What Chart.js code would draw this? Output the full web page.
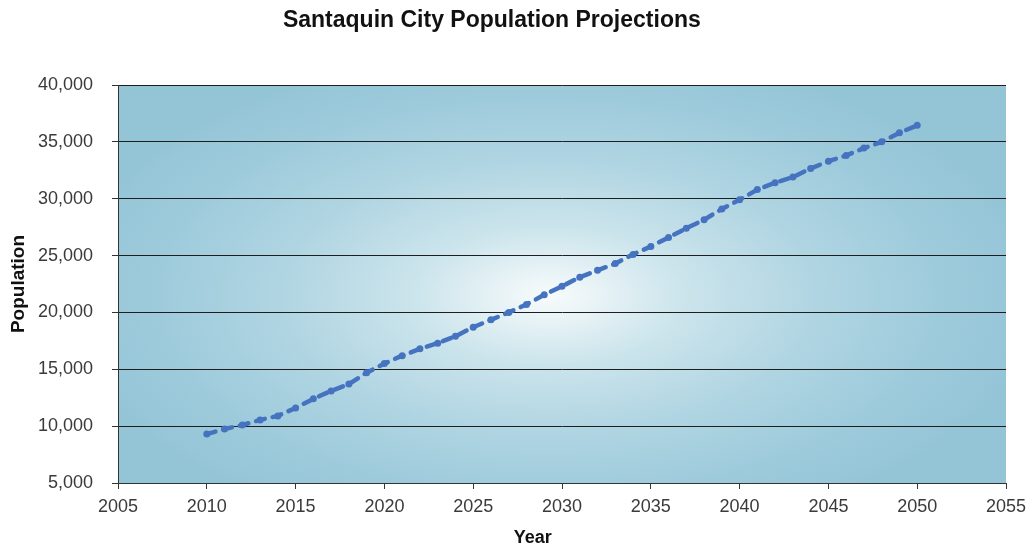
<!DOCTYPE html>
<html>
<head>
<meta charset="utf-8">
<title>Santaquin City Population Projections</title>
<script src="https://cdn.jsdelivr.net/npm/chart.js@4/dist/chart.umd.min.js"></script>
<style>
  html, body { margin: 0; padding: 0; background: #ffffff; }
  #wrap { width: 1034px; height: 551px; position: relative; }
</style>
</head>
<body>
<div id="wrap"><canvas id="chart" width="1034" height="551"></canvas></div>
<script>
// Projected population by year
const years = [2010, 2011, 2012, 2013, 2014, 2015, 2016, 2017, 2018, 2019,
               2020, 2021, 2022, 2023, 2024, 2025, 2026, 2027, 2028, 2029,
               2030, 2031, 2032, 2033, 2034, 2035, 2036, 2037, 2038, 2039,
               2040, 2041, 2042, 2043, 2044, 2045, 2046, 2047, 2048, 2049, 2050];
const population = [9300, 9750, 10100, 10550, 10900, 11600, 12400, 13100, 13700, 14700,
                    15500, 16200, 16800, 17300, 17900, 18700, 19350, 20000, 20700, 21550,
                    22300, 23100, 23700, 24300, 25100, 25800, 26600, 27400, 28150, 29100,
                    29900, 30800, 31400, 31900, 32650, 33300, 33800, 34450, 35000, 35800, 36450];

// Axis ticks
const xTickValues = [2005, 2010, 2015, 2020, 2025, 2030, 2035, 2040, 2045, 2050, 2055];
const yTickValues = [5000, 10000, 15000, 20000, 25000, 30000, 35000, 40000];

const chartTitle = 'Santaquin City Population Projections';
const xAxisTitle = 'Year';
const yAxisTitle = 'Population';

// Soft elliptical glow behind the plot area
const plotBackground = {
  id: 'plotBackground',
  beforeDraw(chart) {
    const { ctx, chartArea: a } = chart;
    const cx = a.left + a.width * 0.485;
    const cy = a.top + a.height * 0.53;
    const rx = a.width * 0.55;
    const ry = a.height * 0.62;
    ctx.save();
    ctx.beginPath();
    ctx.rect(a.left, a.top, a.width, a.height);
    ctx.clip();
    ctx.translate(cx, cy);
    ctx.scale(rx, ry);
    const g = ctx.createRadialGradient(0, 0, 0, 0, 0, 1);
    g.addColorStop(0.0, '#f7fbfc');
    g.addColorStop(0.1, '#e8f3f6');
    g.addColorStop(0.28, '#cbe4ec');
    g.addColorStop(0.55, '#b0d5e2');
    g.addColorStop(0.8, '#9ecbdc');
    g.addColorStop(1.0, '#94c5d7');
    ctx.fillStyle = g;
    ctx.fillRect(-3, -3, 6, 6);
    ctx.restore();
  }
};

// Chart title and horizontal axis title
const titles = {
  id: 'titles',
  afterDraw(chart) {
    const { ctx, chartArea: a } = chart;
    ctx.save();
    ctx.fillStyle = '#111111';
    ctx.textAlign = 'center';
    ctx.textBaseline = 'middle';
    ctx.font = 'bold 23px "Liberation Sans", Arial, sans-serif';
    ctx.fillText(chartTitle, a.left + a.width * 0.421, 21);
    ctx.font = 'bold 18px "Liberation Sans", Arial, sans-serif';
    ctx.fillText(xAxisTitle, a.left + a.width * 0.467, chart.height - 13);
    ctx.restore();
  }
};

new Chart(document.getElementById('chart'), {
  type: 'line',
  data: {
    datasets: [{
      data: years.map((y, i) => ({ x: y, y: population[i] })),
      borderColor: '#4673c0',
      backgroundColor: '#4673c0',
      borderWidth: 4.5,
      borderDash: [9, 8],
      borderCapStyle: 'round',
      pointRadius: 3.5,
      pointBorderWidth: 0,
      pointHoverRadius: 3.5,
      tension: 0,
      fill: false
    }]
  },
  options: {
    responsive: false,
    animation: false,
    events: [],
    layout: { padding: { top: 85, right: 28, bottom: 0, left: 0 } },
    plugins: {
      legend: { display: false },
      title: { display: false },
      tooltip: { enabled: false }
    },
    scales: {
      x: {
        type: 'linear',
        min: 2005,
        max: 2055,
        afterBuildTicks: s => { s.ticks = xTickValues.map(v => ({ value: v })); },
        afterFit: s => { s.height = 68; },
        ticks: {
          callback: v => String(v),
          color: '#3a3a3a',
          font: { family: '"Liberation Sans", Arial, sans-serif', size: 18 },
          padding: 7,
          maxRotation: 0,
          autoSkip: false
        },
        grid: {
          color: 'rgba(0,0,0,0)',
          tickColor: '#333333',
          tickLength: 6,
          drawOnChartArea: false
        },
        border: { display: true, color: '#333333', width: 1 }
      },
      y: {
        type: 'linear',
        min: 5000,
        max: 40000,
        afterBuildTicks: s => { s.ticks = yTickValues.map(v => ({ value: v })); },
        afterFit: s => { s.width = 118; },
        ticks: {
          callback: v => v.toLocaleString('en-US'),
          color: '#3a3a3a',
          font: { family: '"Liberation Sans", Arial, sans-serif', size: 18 },
          padding: 19
        },
        grid: {
          color: '#1e1e1e',
          tickColor: '#333333',
          tickLength: 6,
          lineWidth: 1
        },
        border: { display: true, color: '#333333', width: 1 },
        title: {
          display: true,
          text: yAxisTitle,
          color: '#111111',
          font: { family: '"Liberation Sans", Arial, sans-serif', size: 19, weight: 'bold' },
          padding: { top: 7, bottom: 0 }
        }
      }
    }
  },
  plugins: [plotBackground, titles]
});
</script>
</body>
</html>
